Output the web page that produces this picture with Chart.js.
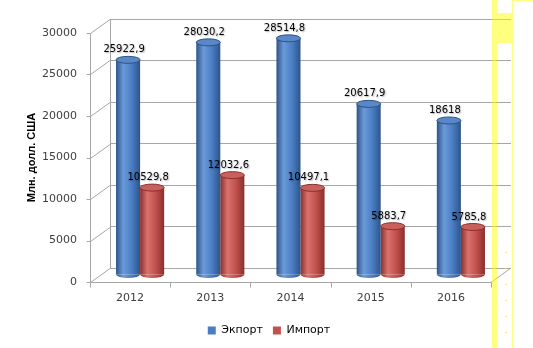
<!DOCTYPE html>
<html>
<head>
<meta charset="utf-8">
<script src="https://cdn.jsdelivr.net/npm/chart.js@4.4.1/dist/chart.umd.min.js"></script>
<style>
  html, body { margin: 0; padding: 0; background: #fff; }
  #wrap { width: 533px; height: 348px; }
</style>
</head>
<body>
<div id="wrap"><canvas id="tradeChart" width="533" height="348"></canvas></div>
<script>
const years = ['2012', '2013', '2014', '2015', '2016'];
const exportValues = [25922.9, 28030.2, 28514.8, 20617.9, 18618];
const importValues = [10529.8, 12032.6, 10497.1, 5883.7, 5785.8];
const seriesNames = ['Экпорт', 'Импорт'];
const yMin = 0, yMax = 30000, yStep = 5000;
const axisTitle = 'Млн. долл. США';

// depth of the 3d box: front edge sits left/below the back wall
const DX = 20, DY = 14;
const GRID = '#a6a6a6';
const TEXT = '#404040';

const blueShade = { dark: '#2e5488', mid: '#4a7ec4', light: '#6a9ad8', cap: '#5a88c6', rim: '#2e5288' };
const redShade = { dark: '#8a2e2c', mid: '#c2504d', light: '#d9726e', cap: '#c9605c', rim: '#8a302e' };

function shadeGradient(ctx, left, right, shade) {
  const g = ctx.createLinearGradient(left, 0, right, 0);
  g.addColorStop(0, shade.dark);
  g.addColorStop(0.3, shade.light);
  g.addColorStop(0.65, shade.mid);
  g.addColorStop(1, shade.dark);
  return g;
}

// horizontal gradient so the bars look like cylinders
function cylinderFill(shade) {
  return (c) => {
    const chart = c.chart;
    const xs = chart.scales.x;
    if (!xs || c.type !== 'data' || !chart.chartArea) return shade.mid;
    const cat = xs.width / years.length;
    const w = cat * 0.6 / 2;
    const cx = xs.getPixelForValue(c.dataIndex) + (c.datasetIndex === 0 ? -w / 2 : w / 2);
    if (!Number.isFinite(cx) || !Number.isFinite(w)) return shade.mid;
    return shadeGradient(chart.ctx, cx - w / 2, cx + w / 2, shade);
  };
}

function fmt(v) {
  return String(v).replace('.', ',');
}

const box3d = {
  id: 'box3d',
  beforeDatasetsDraw(chart) {
    const { ctx, chartArea: a, scales: { x, y } } = chart;
    ctx.save();
    ctx.strokeStyle = GRID;
    ctx.lineWidth = 1;
    ctx.beginPath();
    // front vertical axis with small ticks and the side-wall diagonals
    const fx = Math.round(a.left - DX) + 0.5;
    ctx.moveTo(fx, a.top + DY);
    ctx.lineTo(fx, a.bottom + DY);
    for (let v = yMin; v <= yMax; v += yStep) {
      const py = Math.round(y.getPixelForValue(v)) + 0.5;
      ctx.moveTo(fx - 4, py + DY);
      ctx.lineTo(fx, py + DY);
      ctx.lineTo(a.left, py);
    }
    // front floor edge with category ticks
    const fy = Math.round(a.bottom + DY) + 0.5;
    ctx.moveTo(fx, fy);
    ctx.lineTo(a.right - DX, fy);
    ctx.lineTo(a.right, a.bottom);
    const cat = x.width / years.length;
    for (let i = 0; i <= years.length; i++) {
      const px = Math.round(a.left + i * cat - DX) + 0.5;
      ctx.moveTo(px, fy);
      ctx.lineTo(px, fy + 5);
    }
    ctx.stroke();
    ctx.restore();

    // bars stand halfway between front edge and back wall
    ctx.save();
    ctx.translate(-DX / 2, DY / 2);
  },
  afterDatasetsDraw(chart) {
    const { ctx } = chart;
    const shades = [blueShade, redShade];
    chart.data.datasets.forEach((ds, di) => {
      const meta = chart.getDatasetMeta(di);
      meta.data.forEach((el) => {
        const { x, y, base, width } = el.getProps(['x', 'y', 'base', 'width'], true);
        const rx = width / 2, ry = 3.5;
        // rounded bottom
        ctx.beginPath();
        ctx.ellipse(x, base, rx, ry, 0, 0, Math.PI);
        ctx.fillStyle = shadeGradient(ctx, x - rx, x + rx, shades[di]);
        ctx.fill();
        // top cap
        ctx.beginPath();
        ctx.ellipse(x, y, rx, ry, 0, 0, Math.PI * 2);
        ctx.fillStyle = shades[di].cap;
        ctx.fill();
        ctx.strokeStyle = shades[di].rim;
        ctx.lineWidth = 1;
        ctx.stroke();
      });
    });
    ctx.restore();

    // value labels above the caps
    ctx.save();
    ctx.font = '10px "DejaVu Sans"';
    ctx.fillStyle = '#000';
    ctx.textAlign = 'center';
    ctx.textBaseline = 'middle';
    ctx.shadowColor = 'rgba(0,0,0,0.3)';
    ctx.shadowBlur = 1.5;
    ctx.shadowOffsetX = 1;
    ctx.shadowOffsetY = 1;
    chart.data.datasets.forEach((ds, di) => {
      const meta = chart.getDatasetMeta(di);
      meta.data.forEach((el, i) => {
        ctx.fillText(fmt(ds.data[i]), el.x - DX / 2 - 4, el.y + DY / 2 - 10);
      });
    });
    ctx.restore();
  },
  afterDraw(chart) {
    const { ctx, chartArea: a } = chart;
    // rotated axis title, centred on the front axis
    ctx.save();
    ctx.translate(32, (a.top + a.bottom) / 2 + DY);
    ctx.rotate(-Math.PI / 2);
    ctx.font = 'bold 11px "Liberation Sans"';
    ctx.fillStyle = '#000';
    ctx.textAlign = 'center';
    ctx.textBaseline = 'middle';
    ctx.fillText(axisTitle, 0, 0);
    ctx.restore();

    // yellow selection marks along the right side
    ctx.save();
    ctx.fillStyle = 'rgba(255,255,0,0.5)';
    ctx.fillRect(492, 0, 5, 348);
    ctx.fillRect(497, 13, 15, 30);
    ctx.fillRect(512, 0, 1, 348);
    ctx.fillRect(513, 0, 20, 1);
    ctx.fillStyle = 'rgba(230,230,0,0.6)';
    [252, 268, 284, 300, 316, 332].forEach((yy) => ctx.fillRect(505, yy, 2, 1));
    ctx.restore();
  }
};

new Chart(document.getElementById('tradeChart'), {
  type: 'bar',
  data: {
    labels: years,
    datasets: [
      { label: seriesNames[0], data: exportValues, backgroundColor: cylinderFill(blueShade), clip: false },
      { label: seriesNames[1], data: importValues, backgroundColor: cylinderFill(redShade), clip: false }
    ]
  },
  options: {
    responsive: false,
    animation: false,
    devicePixelRatio: 1,
    layout: { padding: { left: 27, right: 22, top: 19, bottom: 2 } },
    datasets: { bar: { categoryPercentage: 0.6, barPercentage: 1.0 } },
    scales: {
      x: {
        grid: { display: false },
        border: { display: false },
        ticks: { labelOffset: -DX, padding: 16, color: TEXT, font: { family: 'DejaVu Sans', size: 11 } },
        afterFit: (s) => { s.height = 47; s.paddingLeft = 0; s.paddingRight = 0; }
      },
      y: {
        min: yMin,
        max: yMax,
        grid: { color: GRID, drawTicks: false },
        border: { display: true, color: GRID },
        ticks: {
          stepSize: yStep, labelOffset: DY, padding: 33, color: TEXT,
          font: { family: 'DejaVu Sans', size: 11 },
          callback: (v) => String(v)
        },
        afterFit: (s) => { s.width = 83; s.paddingTop = 0; s.paddingBottom = 0; }
      }
    },
    plugins: {
      legend: {
        position: 'bottom',
        labels: {
          boxWidth: 8, boxHeight: 8, padding: 10, color: TEXT,
          font: { family: 'DejaVu Sans', size: 11 },
          generateLabels: () => seriesNames.map((name, i) => ({
            text: name,
            fillStyle: [blueShade.mid, redShade.mid][i],
            strokeStyle: 'transparent',
            lineWidth: 0,
            datasetIndex: i
          }))
        }
      },
      tooltip: { enabled: false }
    }
  },
  plugins: [box3d]
});
</script>
</body>
</html>
